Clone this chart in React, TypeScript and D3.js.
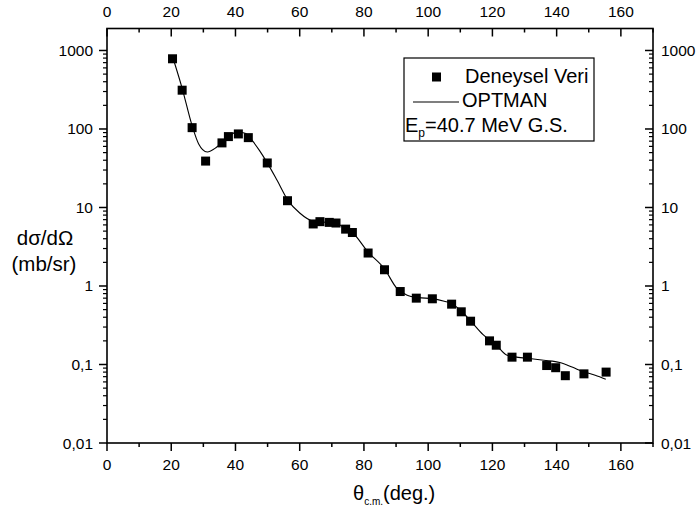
import React from "react";
import * as d3 from "d3";

const expAngles = [20.4, 23.4, 26.5, 30.7, 35.8, 37.8, 40.9, 44.0, 49.9, 56.2, 64.2, 66.3, 69.2, 71.3, 74.3, 76.4, 81.3, 86.4, 91.3, 96.3, 101.3, 107.3, 110.3, 113.2, 119.1, 121.2, 126.1, 130.9, 136.9, 139.7, 142.7, 148.5, 155.4];
const expValues = [784, 312, 104, 39, 66.5, 80, 86.5, 77.6, 36.9, 12.2, 6.17, 6.6, 6.46, 6.34, 5.3, 4.8, 2.63, 1.61, 0.85, 0.70, 0.687, 0.587, 0.469, 0.356, 0.2, 0.176, 0.124, 0.124, 0.097, 0.091, 0.072, 0.076, 0.080];

const calcAngles = [21, 23.4, 26.5, 28.5, 31.2, 34, 37, 40.6, 43, 45, 47.5, 49.9, 53, 56.2, 60, 64.2, 68, 71.3, 74, 76.4, 81.3, 86.4, 90.2, 93.3, 97, 101.3, 105, 107.3, 110.3, 113.2, 117.1, 121.2, 124.4, 127, 130.9, 136, 141, 145, 148.3, 152, 155.3];
const calcValues = [700, 330, 110, 65, 51, 58, 75, 92, 88, 73, 53, 37, 22, 12.6, 8.5, 6.7, 6.5, 6.3, 5.5, 4.8, 2.7, 1.65, 0.94, 0.77, 0.71, 0.69, 0.64, 0.6, 0.48, 0.36, 0.24, 0.176, 0.132, 0.125, 0.12, 0.113, 0.106, 0.092, 0.081, 0.073, 0.065];

const xTicks = [0, 20, 40, 60, 80, 100, 120, 140, 160];
const xMinorTicks = [10, 30, 50, 70, 90, 110, 130, 150, 170];
const yTicks = [0.01, 0.1, 1, 10, 100, 1000];
const yTickLabels = ["0,01", "0,1", "1", "10", "100", "1000"];

const FONT = "'Liberation Sans', Arial, Helvetica, sans-serif";

export default function App() {
  const left = 107, right = 653, top = 28.5, bottom = 443;
  const x = d3.scaleLinear().domain([0, 170]).range([left, right]);
  const y = d3.scaleLog().domain([0.01, Math.pow(10, 3.28)]).range([bottom, top]);

  const yMinor: number[] = [];
  for (let e = -2; e <= 3; e++) {
    for (let m = 2; m <= 9; m++) {
      const v = m * Math.pow(10, e);
      if (v <= y.domain()[1]) yMinor.push(v);
    }
  }

  const line = d3
    .line<[number, number]>()
    .x((d) => x(d[0]))
    .y((d) => y(d[1]))
    .curve(d3.curveMonotoneX);
  const curveData: [number, number][] = calcAngles.map((a, i) => [a, calcValues[i]]);

  const sq = 9;
  const tickFs = 15.5;

  return (
    <svg width={699} height={512} style={{ position: "absolute", left: 0, top: 0, background: "#fff" }} fontFamily={FONT}>
      <rect x={0} y={0} width={699} height={512} fill="#fff" />
      <rect x={left} y={top} width={right - left} height={bottom - top} fill="none" stroke="#000" strokeWidth={1.6} />

      {xTicks.map((t) => (
        <g key={"xt" + t}>
          <line x1={x(t)} x2={x(t)} y1={bottom} y2={bottom + 8} stroke="#000" strokeWidth={1.5} />
          <line x1={x(t)} x2={x(t)} y1={top} y2={top + 8} stroke="#000" strokeWidth={1.5} />
          <text x={x(t)} y={470} textAnchor="middle" fontSize={tickFs}>{t}</text>
          <text x={x(t)} y={17} textAnchor="middle" fontSize={tickFs}>{t}</text>
        </g>
      ))}
      {xMinorTicks.map((t) => (
        <g key={"xm" + t}>
          <line x1={x(t)} x2={x(t)} y1={bottom} y2={bottom + 4} stroke="#000" strokeWidth={1.5} />
          <line x1={x(t)} x2={x(t)} y1={top} y2={top + 4} stroke="#000" strokeWidth={1.5} />
        </g>
      ))}

      {yTicks.map((t, i) => (
        <g key={"yt" + t}>
          <line x1={left - 8} x2={left} y1={y(t)} y2={y(t)} stroke="#000" strokeWidth={1.5} />
          <line x1={right - 8} x2={right} y1={y(t)} y2={y(t)} stroke="#000" strokeWidth={1.5} />
          <text x={93} y={y(t) + 5.5} textAnchor="end" fontSize={tickFs}>{yTickLabels[i]}</text>
          <text x={661} y={y(t) + 5.5} textAnchor="start" fontSize={tickFs}>{yTickLabels[i]}</text>
        </g>
      ))}
      {yMinor.map((t) => (
        <g key={"ym" + t}>
          <line x1={left - 4} x2={left} y1={y(t)} y2={y(t)} stroke="#000" strokeWidth={1.2} />
          <line x1={right - 4} x2={right} y1={y(t)} y2={y(t)} stroke="#000" strokeWidth={1.2} />
        </g>
      ))}

      <text x={45} y={245} textAnchor="middle" fontSize={20.5}>dσ/dΩ</text>
      <text x={44} y={271} textAnchor="middle" fontSize={20.5}>(mb/sr)</text>
      <text x={353} y={500} fontSize={20}>
        θ<tspan fontSize={10} dy={5}>c.m.</tspan>
        <tspan dy={-5}>(deg.)</tspan>
      </text>

      <path d={line(curveData) || ""} fill="none" stroke="#000" strokeWidth={1.1} />

      {expAngles.map((a, i) => (
        <rect key={"p" + i} x={x(a) - sq / 2} y={y(expValues[i]) - sq / 2} width={sq} height={sq} fill="#000" />
      ))}

      <rect x={404} y={58} width={190} height={83} fill="#fff" stroke="#000" strokeWidth={1.2} />
      <rect x={432} y={72.5} width={9} height={9} fill="#000" />
      <text x={465} y={83} fontSize={20}>Deneysel Veri</text>
      <line x1={413} x2={459} y1={102} y2={102} stroke="#000" strokeWidth={1.1} />
      <text x={462} y={107} fontSize={20}>OPTMAN</text>
      <text x={405} y={132} fontSize={20}>
        E<tspan fontSize={12} dy={5}>p</tspan>
        <tspan dy={-5}>=40.7 MeV G.S.</tspan>
      </text>
    </svg>
  );
}
